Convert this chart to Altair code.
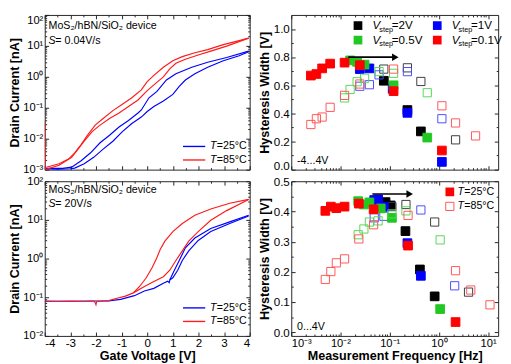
import altair as alt
import pandas as pd

FONT = "Liberation Sans"
BLUE = "#0000FF"
RED = "#FF1A1A"
FRAME = "#222222"

# ================= DATA: transfer curves (Gate voltage [V], Drain current [nA]) =================
# Top-left panel  (S = 0.04 V/s)
tl_25_fwd_v = [-3.95, -3.5, -3.0, -2.83, -2.46, -2.09, -1.72, -1.34, -0.97, -0.60, -0.23, 0.0, 0.26, 0.63, 1.0, 1.25, 1.49, 1.86, 2.36, 2.97, 3.59, 3.96]
tl_25_fwd_i = [1.05e-3, 1.02e-3, 1.07e-3, 1.12e-3, 1.55e-3, 2.5e-3, 4.6e-3, 8.3e-3, 0.017, 0.031, 0.050, 0.076, 0.11, 0.166, 0.27, 0.49, 0.79, 1.26, 2.04, 3.3, 4.8, 6.5]
tl_25_bwd_v = [-3.95, -3.3, -2.95, -2.58, -2.21, -1.84, -1.47, -1.10, -0.73, -0.36, -0.23, 0.07, 0.38, 0.75, 1.12, 1.74, 2.36, 3.10, 3.96]
tl_25_bwd_i = [1.1e-3, 1.1e-3, 1.2e-3, 1.95e-3, 3.5e-3, 7.4e-3, 0.013, 0.024, 0.039, 0.068, 0.085, 0.21, 0.34, 0.79, 1.26, 2.04, 2.95, 4.2, 6.8]
tl_85_fwd_v = [-4.0, -3.98, -3.44, -2.95, -2.70, -2.46, -2.15, -1.84, -1.47, -1.10, -0.73, -0.36, 0.0, 0.26, 0.63, 0.88, 1.12, 1.49, 1.99, 2.48, 3.10, 3.96]
tl_85_fwd_i = [0.036, 1.0e-3, 1.38e-3, 2.5e-3, 4.6e-3, 8.3e-3, 0.017, 0.0275, 0.045, 0.068, 0.11, 0.178, 0.36, 0.55, 1.0, 1.82, 2.75, 3.7, 5.1, 6.8, 9.8, 17.8]
tl_85_bwd_v = [-3.94, -3.44, -3.07, -2.83, -2.58, -2.33, -2.03, -1.72, -1.34, -0.97, -0.60, -0.23, 0.0, 0.26, 0.63, 1.0, 1.37, 1.86, 2.36, 2.97, 3.59, 3.96]
tl_85_bwd_i = [1.2e-3, 1.55e-3, 2.2e-3, 3.5e-3, 6.5e-3, 0.013, 0.0275, 0.045, 0.081, 0.13, 0.21, 0.38, 0.70, 1.12, 2.04, 3.3, 4.5, 6.0, 7.6, 11.0, 14.8, 17.8]

# Bottom-left panel  (S = 20 V/s)
bl_25_fwd_v = [-4.0, -3.0, -2.0, -1.5, -1.04, -0.5, -0.11, 0.26, 0.63, 0.80, 0.86, 0.88, 1.0, 1.19, 1.37, 1.62, 1.99, 2.48, 3.22, 3.96]
bl_25_fwd_i = [0.079, 0.079, 0.080, 0.081, 0.088, 0.11, 0.145, 0.17, 0.23, 0.26, 0.24, 0.28, 0.32, 0.50, 0.89, 1.58, 2.95, 5.0, 8.1, 12.6]
bl_25_bwd_v = [3.96, 3.22, 2.48, 1.86, 1.49, 1.25, 1.06, 0.88]
bl_25_bwd_i = [13.2, 8.9, 6.0, 3.4, 1.9, 0.89, 0.50, 0.28]
bl_85_fwd_v = [-4.0, -3.5, -3.0, -2.5, -2.08, -2.03, -2.0, -1.97, -1.5, -1.22, -0.85, -0.54, -0.11, 0.26, 0.63, 0.88, 1.12, 1.37, 1.62, 1.99, 2.48, 3.10, 3.96]
bl_85_fwd_i = [0.080, 0.079, 0.080, 0.079, 0.080, 0.072, 0.064, 0.078, 0.082, 0.093, 0.107, 0.13, 0.19, 0.257, 0.34, 0.50, 0.89, 1.58, 2.82, 5.0, 9.8, 17.4, 33.9]
bl_85_bwd_v = [3.96, 3.22, 2.48, 1.86, 1.37, 1.0, 0.69, 0.51, 0.38, 0.20, -0.05, -0.30, -0.54]
bl_85_bwd_i = [33.9, 26.9, 19.1, 13.2, 8.1, 5.0, 2.82, 1.74, 1.07, 0.60, 0.31, 0.19, 0.13]

# ================= DATA: hysteresis width vs measurement frequency =================
# Top-right (-4...4 V); filled = T 25 C, open = T 85 C
tr_2v_fill_f = [0.076, 0.229, 0.43]
tr_2v_fill_w = [0.632, 0.424, 0.272]
tr_2v_open_f = [0.076, 0.229, 0.43, 2.18]
tr_2v_open_w = [0.715, 0.724, 0.627, 0.212]
tr_1v_fill_f = [0.0247, 0.0387, 0.115, 0.229, 1.15]
tr_1v_fill_w = [0.715, 0.72, 0.575, 0.404, 0.055]
tr_1v_open_f = [0.0247, 0.0387, 0.0608, 0.229, 1.15]
tr_1v_open_w = [0.593, 0.604, 0.674, 0.697, 0.362]
tr_05v_fill_f = [0.0157, 0.0218, 0.0309, 0.12, 0.58]
tr_05v_fill_w = [0.777, 0.766, 0.747, 0.60, 0.228]
tr_05v_open_f = [0.0121, 0.0157, 0.0218, 0.0309, 0.0608, 0.12, 0.58]
tr_05v_open_w = [0.51, 0.57, 0.625, 0.65, 0.697, 0.685, 0.547]
tr_01v_fill_f = [0.0025, 0.00324, 0.00424, 0.00617, 0.0121, 0.0247, 0.12, 1.15]
tr_01v_fill_w = [0.669, 0.680, 0.720, 0.754, 0.761, 0.743, 0.558, 0.136]
tr_01v_open_f = [0.0025, 0.00324, 0.00424, 0.00617, 0.0121, 0.0247, 0.12, 1.15, 2.18, 5.56]
tr_01v_open_w = [0.321, 0.362, 0.374, 0.443, 0.528, 0.609, 0.715, 0.454, 0.332, 0.240]

# Bottom-right (0...4 V)
br_2v_fill_f = [0.0824, 0.105, 0.209, 0.411, 0.82]
br_2v_fill_w = [0.431, 0.42, 0.335, 0.208, 0.119]
br_2v_open_f = [0.111, 0.214, 0.82, 4.0]
br_2v_open_w = [0.416, 0.423, 0.365, 0.133]
br_1v_fill_f = [0.0485, 0.0582, 0.0762, 0.229, 0.43]
br_1v_fill_w = [0.438, 0.44, 0.415, 0.295, 0.187]
br_1v_open_f = [0.0485, 0.0762, 0.43, 2.09]
br_1v_open_w = [0.379, 0.384, 0.405, 0.154]
br_05v_fill_f = [0.0229, 0.0299, 0.0387, 0.0658, 0.111, 1.06]
br_05v_fill_w = [0.434, 0.423, 0.43, 0.41, 0.379, 0.077]
br_05v_open_f = [0.0229, 0.0299, 0.0387, 0.0582, 0.111, 0.214, 1.06]
br_05v_open_w = [0.323, 0.342, 0.365, 0.369, 0.392, 0.402, 0.306]
br_01v_fill_f = [0.00492, 0.00637, 0.00824, 0.0121, 0.0236, 0.0471, 0.236, 2.18]
br_01v_fill_w = [0.402, 0.416, 0.411, 0.416, 0.426, 0.407, 0.287, 0.034]
br_01v_open_f = [0.00492, 0.00637, 0.00824, 0.0121, 0.0236, 0.0471, 0.236, 2.18, 4.44, 10.9]
br_01v_open_w = [0.175, 0.201, 0.230, 0.243, 0.309, 0.356, 0.387, 0.204, 0.14, 0.091]

# arrows (frequency start, frequency end, width)
tr_arrow = [0.0144, 0.13, 0.80]
br_arrow = [0.0444, 0.255, 0.458]

# ================= STYLE =================
W_L, W_R, H = 212, 214, 160
TICK, MINOR = 4, 2
SUP = {-3: "\u207b\u00b3", -2: "\u207b\u00b2", -1: "\u207b\u00b9", 0: "\u2070", 1: "\u00b9", 2: "\u00b2"}
FILL_COL = {"2V": "#000000", "1V": "#0000FF", "0.5V": "#22C822", "0.1V": "#FF0000"}
OPEN_COL = {"2V": "#3a3a3a", "1V": "#4a4aFF", "0.5V": "#55D855", "0.1V": "#FF5555"}


def pow_label_expr(pows):
    pows = sorted(pows, reverse=True)
    parts = [f"datum.value > {0.5 * 10.0 ** p:g} ? '10{SUP[p]}' : " for p in pows[:-1]]
    return "".join(parts) + f"'10{SUP[pows[-1]]}'"


def ax(orient, values, size, **kw):
    d = dict(orient=orient, values=values, tickSize=size, offset=-size, domain=False, grid=False,
             ticks=True, tickColor=FRAME, tickWidth=1, labels=False, title=None)
    d.update(kw)
    return alt.Axis(**d)


def axis_layers(df, xf, yf, xs, ys, xmaj, xmin, ymaj, ymin, xkw, ykw):
    def pt(xa, ya):
        return alt.Chart(df).mark_point(opacity=0).encode(
            x=alt.X(f"{xf}:Q", scale=xs, axis=xa), y=alt.Y(f"{yf}:Q", scale=ys, axis=ya))
    return [
        pt(ax("bottom", xmaj, TICK, **xkw), ax("left", ymaj, TICK, **ykw)),
        pt(ax("top", xmaj, TICK), ax("right", ymaj, TICK)),
        pt(ax("bottom", xmin, MINOR), ax("left", ymin, MINOR)),
        pt(ax("top", xmin, MINOR), ax("right", ymin, MINOR)),
    ]


ONE = pd.DataFrame({"a": [0]})


def txt(s, x, y, size=11, style="normal", align="left", weight="normal"):
    return alt.Chart(ONE).mark_text(text=s, font=FONT, fontSize=size, fontStyle=style, fontWeight=weight,
                                    align=align, baseline="middle", color="black").encode(
        x=alt.value(x), y=alt.value(y))


def hline(x1, x2, y, color):
    return alt.Chart(ONE).mark_rule(color=color, strokeWidth=1.4).encode(
        x=alt.value(x1), x2=alt.value(x2), y=alt.value(y))


def square(x, y, color, filled):
    if filled:
        m = alt.Chart(ONE).mark_point(shape="square", filled=True, size=81, color=color, opacity=1)
    else:
        m = alt.Chart(ONE).mark_point(shape="square", filled=False, size=72, color=color, opacity=1, strokeWidth=1)
    return m.encode(x=alt.value(x), y=alt.value(y))


def curves(lst):
    return pd.concat([pd.DataFrame({"V": v, "I": i, "branch": name, "idx": range(len(v))})
                      for v, i, name in lst], ignore_index=True)


def left_panel(d25, d85, ydom, pows, bottom, dev_y, s_text, leg_y):
    xs = alt.Scale(domain=[-4, 4], nice=False, zero=False)
    ys = alt.Scale(type="log", domain=ydom, nice=False)
    alld = pd.concat([d25, d85], ignore_index=True)
    yminor = [k * 10.0 ** p for p in pows[:-1] for k in range(2, 10)]
    xkw = {}
    if bottom:
        xkw = dict(labels=True, labelExpr="'' + datum.value", labelPadding=2, labelFontSize=12,
                   title="Gate Voltage [V]", titlePadding=1)
    ykw = dict(labels=True, labelExpr=pow_label_expr(pows), labelPadding=2, labelFontSize=11.5,
               title="Drain Current [nA]", titlePadding=1)
    if not bottom:
        ykw["labelBaseline"] = {"condition": {"test": "datum.value > 50", "value": "top"}, "value": "middle"}
    layers = axis_layers(alld, "V", "I", xs, ys, list(range(-4, 5)), [k + 0.5 for k in range(-4, 4)],
                         [10.0 ** p for p in pows], yminor, xkw, ykw)
    for d, col in ((d25, BLUE), (d85, RED)):
        layers.append(alt.Chart(d).mark_line(color=col, strokeWidth=1.2, clip=True).encode(
            x=alt.X("V:Q", scale=xs, axis=None), y=alt.Y("I:Q", scale=ys, axis=None),
            detail="branch:N", order="idx:Q"))
    layers += [
        txt("MoS\u2082/hBN/SiO\u2082 device", 4, dev_y),
        txt("S", 4, dev_y + 15, style="italic"),
        txt("= " + s_text, 11, dev_y + 15),
        hline(143, 166, leg_y, BLUE), hline(143, 166, leg_y + 14, RED),
        txt("T", 171, leg_y, style="italic"), txt("=25\u00b0C", 178, leg_y),
        txt("T", 171, leg_y + 14, style="italic"), txt("=85\u00b0C", 178, leg_y + 14),
    ]
    return alt.layer(*layers).resolve_axis(x="independent", y="independent").properties(width=W_L, height=H)


def freq_df(series):
    rows = []
    for key, ff, fw, of, ow in series:
        for f, w in zip(ff, fw):
            rows.append({"f": f, "w": w, "stroke": FILL_COL[key], "fill": FILL_COL[key], "size": 81})
        for f, w in zip(of, ow):
            rows.append({"f": f, "w": w, "stroke": OPEN_COL[key], "fill": "transparent", "size": 72})
    return pd.DataFrame(rows)


def right_panel(df, ydom, ymaj, ymin, bottom, arrow, range_text, legend):
    fx = alt.Scale(type="log", domain=[0.001, 16], nice=False)
    wy = alt.Scale(domain=ydom, nice=False, zero=False)
    xminor = [k * 10.0 ** p for p in range(-3, 2) for k in range(2, 10) if k * 10.0 ** p <= 16]
    xkw = {}
    if bottom:
        xkw = dict(labels=True, labelExpr=pow_label_expr([-3, -2, -1, 0, 1]), labelPadding=2,
                   labelFontSize=11.5, title="Measurement Frequency  [Hz]", titlePadding=1)
    ykw = dict(labels=True, format=".1f", labelPadding=2, labelFontSize=12,
               title="Hysteresis Width [V]", titlePadding=2)
    if not bottom:
        ykw["labelBaseline"] = {"condition": {"test": "datum.value < 0.01", "value": "alphabetic"}, "value": "middle"}
    layers = axis_layers(df, "f", "w", fx, wy, [0.001, 0.01, 0.1, 1, 10], xminor, ymaj, ymin, xkw, ykw)
    layers.append(alt.Chart(df).mark_point(shape="square", opacity=1, strokeWidth=1, clip=True).encode(
        x=alt.X("f:Q", scale=fx, axis=None), y=alt.Y("w:Q", scale=wy, axis=None),
        stroke=alt.Stroke("stroke:N", scale=None), fill=alt.Fill("fill:N", scale=None),
        size=alt.Size("size:Q", scale=None)))
    adf = pd.DataFrame({"f1": [arrow[0]], "f2": [arrow[1]], "w": [arrow[2]]})
    layers.append(alt.Chart(adf).mark_rule(color="black", strokeWidth=1.6).encode(
        x=alt.X("f1:Q", scale=fx, axis=None), x2="f2:Q", y=alt.Y("w:Q", scale=wy, axis=None)))
    layers.append(alt.Chart(adf).mark_point(shape="triangle-right", filled=True, color="black", size=60,
                                            opacity=1).encode(
        x=alt.X("f2:Q", scale=fx, axis=None), y=alt.Y("w:Q", scale=wy, axis=None)))
    layers.append(txt(range_text, 6, 151))
    layers += legend
    return alt.layer(*layers).resolve_axis(x="independent", y="independent").properties(width=W_R, height=H)


def vstep(x, y, key):
    return [square(x, y, FILL_COL[key], True),
            txt("V", x + 15, y, size=12, style="italic"),
            txt("step", x + 22, y + 4.5, size=7.5),
            txt("=" + key, x + 35, y, size=12)]


# ---------- build panels ----------
tl = left_panel(curves([(tl_25_fwd_v, tl_25_fwd_i, "f"), (tl_25_bwd_v, tl_25_bwd_i, "b")]),
                curves([(tl_85_fwd_v, tl_85_fwd_i, "f"), (tl_85_bwd_v, tl_85_bwd_i, "b")]),
                [1e-3, 1e2], [-3, -2, -1, 0, 1, 2], False, 12, "0.04V/s", 136)
bl = left_panel(curves([(bl_25_fwd_v, bl_25_fwd_i, "f"), (bl_25_bwd_v, bl_25_bwd_i, "b")]),
                curves([(bl_85_fwd_v, bl_85_fwd_i, "f"), (bl_85_bwd_v, bl_85_bwd_i, "b")]),
                [1e-2, 1e2], [-2, -1, 0, 1, 2], True, 9, "20V/s", 131)

tr_df = freq_df([("2V", tr_2v_fill_f, tr_2v_fill_w, tr_2v_open_f, tr_2v_open_w),
                 ("1V", tr_1v_fill_f, tr_1v_fill_w, tr_1v_open_f, tr_1v_open_w),
                 ("0.5V", tr_05v_fill_f, tr_05v_fill_w, tr_05v_open_f, tr_05v_open_w),
                 ("0.1V", tr_01v_fill_f, tr_01v_fill_w, tr_01v_open_f, tr_01v_open_w)])
br_df = freq_df([("2V", br_2v_fill_f, br_2v_fill_w, br_2v_open_f, br_2v_open_w),
                 ("1V", br_1v_fill_f, br_1v_fill_w, br_1v_open_f, br_1v_open_w),
                 ("0.5V", br_05v_fill_f, br_05v_fill_w, br_05v_open_f, br_05v_open_w),
                 ("0.1V", br_01v_fill_f, br_01v_fill_w, br_01v_open_f, br_01v_open_w)])

tr_legend = vstep(69, 11, "2V") + vstep(151, 11, "1V") + vstep(69, 26, "0.5V") + vstep(151, 26, "0.1V")
br_legend = [square(164, 11, "#FF0000", True), txt("T", 172, 11, style="italic"), txt("=25\u00b0C", 179, 11),
             square(164, 26, "#FF5555", False), txt("T", 172, 26, style="italic"), txt("=85\u00b0C", 179, 26)]

tr = right_panel(tr_df, [0, 1.1], [0, 0.2, 0.4, 0.6, 0.8, 1.0], [0.1, 0.3, 0.5, 0.7, 0.9],
                 False, tr_arrow, "-4...4V", tr_legend)
br = right_panel(br_df, [-0.012, 0.5], [0, 0.1, 0.2, 0.3, 0.4, 0.5], [0.05, 0.15, 0.25, 0.35, 0.45],
                 True, br_arrow, "0...4V", br_legend)

chart = alt.concat(tl, tr, bl, br, columns=2, spacing={"row": 12, "column": 43},
                   bounds="flush", align="each").properties(
    padding={"left": 0, "top": 0, "right": 0, "bottom": 0}
).configure_view(stroke=FRAME, strokeWidth=1).configure_axis(
    labelFont=FONT, titleFont=FONT, labelColor="black", titleColor="black",
    titleFontSize=13, titleFontWeight="bold"
)

chart.save("out.html", embed_options={"renderer": "svg", "actions": False})
